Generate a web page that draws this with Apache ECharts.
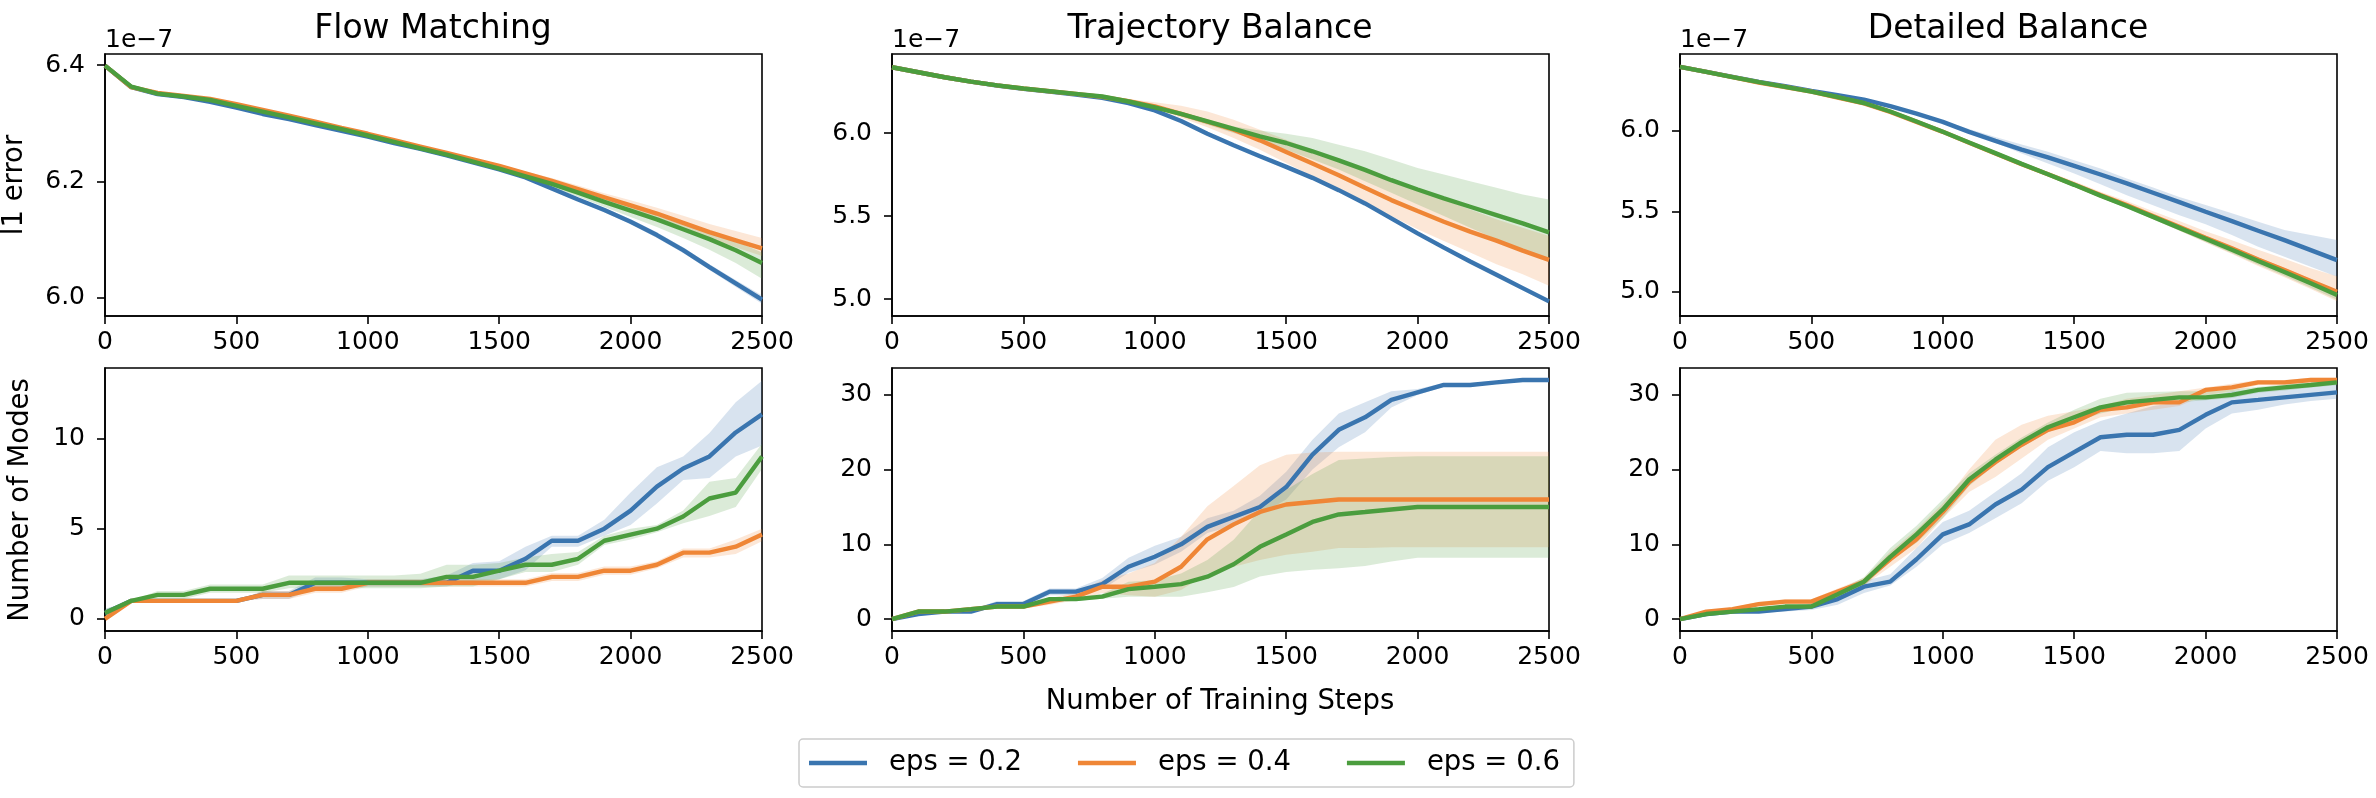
<!DOCTYPE html>
<html lang="en">
<head>
    <meta charset="UTF-8">
    <title>eps comparison</title>
    <script src="https://cdn.jsdelivr.net/npm/echarts@6/dist/echarts.min.js"></script>
    <style>
        html, body { margin: 0; padding: 0; background: #fff; }
        #chart { width: 2376px; height: 798px; }
    </style>
</head>
<body>
<div id="chart"></div>
<script>
    var steps = [0, 100, 200, 300, 400, 500, 600, 700, 800, 900, 1000, 1100, 1200,
        1300, 1400, 1500, 1600, 1700, 1800, 1900, 2000, 2100, 2200, 2300, 2400, 2500];
    var seriesNames = ['eps = 0.2', 'eps = 0.4', 'eps = 0.6'];
    var titles = ['Flow Matching', 'Trajectory Balance', 'Detailed Balance'];
    var errTicksFM = [6.0, 6.2, 6.4];
    var errTicks = [5.0, 5.5, 6.0];
    var modeTicksFM = [0, 5, 10];
    var modeTicks = [0, 10, 20, 30];

    // l1 error (x 1e-7) - Flow Matching
    var fmErrB = [6.399, 6.362, 6.350, 6.345, 6.337, 6.327, 6.316, 6.307, 6.297, 6.287, 6.277, 6.266, 6.256, 6.245, 6.233, 6.221, 6.207, 6.188, 6.169, 6.151, 6.131, 6.108, 6.082, 6.053, 6.025, 5.997];
    var fmErrBLo = [6.397, 6.360, 6.348, 6.343, 6.335, 6.325, 6.314, 6.305, 6.295, 6.285, 6.275, 6.264, 6.254, 6.243, 6.231, 6.219, 6.205, 6.185, 6.166, 6.147, 6.127, 6.103, 6.077, 6.048, 6.019, 5.990];
    var fmErrBHi = [6.401, 6.364, 6.352, 6.347, 6.339, 6.329, 6.318, 6.309, 6.299, 6.289, 6.279, 6.268, 6.258, 6.247, 6.235, 6.223, 6.209, 6.191, 6.172, 6.155, 6.135, 6.113, 6.087, 6.058, 6.031, 6.004];
    var fmErrO = [6.399, 6.362, 6.352, 6.347, 6.342, 6.333, 6.323, 6.313, 6.303, 6.292, 6.282, 6.271, 6.260, 6.249, 6.238, 6.227, 6.214, 6.201, 6.187, 6.173, 6.159, 6.145, 6.129, 6.113, 6.099, 6.085];
    var fmErrOLo = [6.397, 6.360, 6.350, 6.345, 6.340, 6.331, 6.321, 6.311, 6.301, 6.290, 6.280, 6.269, 6.258, 6.247, 6.236, 6.224, 6.211, 6.197, 6.183, 6.168, 6.153, 6.138, 6.120, 6.103, 6.087, 6.072];
    var fmErrOHi = [6.401, 6.364, 6.354, 6.349, 6.344, 6.335, 6.325, 6.315, 6.305, 6.294, 6.284, 6.273, 6.262, 6.251, 6.240, 6.230, 6.217, 6.206, 6.193, 6.180, 6.168, 6.155, 6.141, 6.127, 6.115, 6.103];
    var fmErrG = [6.399, 6.363, 6.351, 6.346, 6.340, 6.330, 6.320, 6.310, 6.300, 6.290, 6.279, 6.268, 6.257, 6.246, 6.234, 6.222, 6.209, 6.196, 6.181, 6.165, 6.150, 6.135, 6.118, 6.101, 6.082, 6.060];
    var fmErrGLo = [6.397, 6.361, 6.349, 6.344, 6.338, 6.328, 6.318, 6.308, 6.298, 6.288, 6.277, 6.266, 6.255, 6.244, 6.232, 6.219, 6.205, 6.190, 6.174, 6.156, 6.139, 6.122, 6.103, 6.083, 6.060, 6.033];
    var fmErrGHi = [6.401, 6.365, 6.353, 6.348, 6.342, 6.332, 6.322, 6.312, 6.302, 6.292, 6.281, 6.270, 6.259, 6.248, 6.236, 6.225, 6.213, 6.201, 6.187, 6.172, 6.159, 6.146, 6.130, 6.115, 6.098, 6.078];

    // l1 error - Trajectory Balance
    var tbErrB = [6.396, 6.366, 6.336, 6.310, 6.286, 6.266, 6.250, 6.232, 6.212, 6.180, 6.136, 6.072, 5.996, 5.926, 5.860, 5.796, 5.730, 5.656, 5.576, 5.486, 5.396, 5.310, 5.226, 5.146, 5.066, 4.986];
    var tbErrBLo = [6.392, 6.362, 6.332, 6.306, 6.282, 6.262, 6.246, 6.228, 6.207, 6.174, 6.129, 6.064, 5.988, 5.918, 5.852, 5.788, 5.722, 5.648, 5.568, 5.478, 5.388, 5.302, 5.218, 5.138, 5.058, 4.978];
    var tbErrBHi = [6.400, 6.370, 6.340, 6.314, 6.290, 6.270, 6.254, 6.236, 6.217, 6.186, 6.143, 6.080, 6.004, 5.934, 5.868, 5.804, 5.738, 5.664, 5.584, 5.494, 5.404, 5.318, 5.234, 5.154, 5.074, 4.994];
    var tbErrO = [6.396, 6.366, 6.336, 6.310, 6.287, 6.268, 6.252, 6.236, 6.218, 6.192, 6.160, 6.115, 6.068, 6.020, 5.956, 5.886, 5.816, 5.746, 5.670, 5.596, 5.530, 5.466, 5.406, 5.352, 5.292, 5.236];
    var tbErrOLo = [6.394, 6.364, 6.334, 6.308, 6.285, 6.266, 6.250, 6.233, 6.213, 6.184, 6.145, 6.092, 6.035, 5.970, 5.900, 5.820, 5.740, 5.660, 5.580, 5.500, 5.420, 5.350, 5.280, 5.210, 5.150, 5.080];
    var tbErrOHi = [6.398, 6.368, 6.338, 6.312, 6.289, 6.270, 6.254, 6.239, 6.224, 6.205, 6.185, 6.165, 6.130, 6.080, 6.020, 5.960, 5.900, 5.840, 5.780, 5.720, 5.660, 5.600, 5.540, 5.480, 5.430, 5.380];
    var tbErrG = [6.396, 6.366, 6.336, 6.310, 6.287, 6.268, 6.252, 6.236, 6.220, 6.190, 6.155, 6.115, 6.070, 6.025, 5.980, 5.940, 5.890, 5.835, 5.778, 5.716, 5.660, 5.606, 5.556, 5.506, 5.456, 5.402];
    var tbErrGLo = [6.394, 6.364, 6.334, 6.308, 6.285, 6.266, 6.250, 6.234, 6.217, 6.186, 6.150, 6.100, 6.050, 6.000, 5.950, 5.900, 5.840, 5.780, 5.710, 5.640, 5.570, 5.500, 5.430, 5.360, 5.290, 5.230];
    var tbErrGHi = [6.398, 6.368, 6.338, 6.312, 6.289, 6.270, 6.254, 6.238, 6.223, 6.195, 6.165, 6.125, 6.085, 6.040, 6.015, 5.995, 5.970, 5.930, 5.890, 5.840, 5.790, 5.750, 5.710, 5.670, 5.630, 5.600];

    // l1 error - Detailed Balance
    var dbErrB = [6.397, 6.366, 6.335, 6.304, 6.277, 6.248, 6.221, 6.194, 6.153, 6.107, 6.056, 5.994, 5.938, 5.884, 5.835, 5.783, 5.729, 5.674, 5.616, 5.558, 5.498, 5.440, 5.380, 5.322, 5.260, 5.198];
    var dbErrBLo = [6.395, 6.364, 6.333, 6.302, 6.275, 6.246, 6.219, 6.191, 6.149, 6.102, 6.050, 5.988, 5.926, 5.860, 5.798, 5.736, 5.669, 5.601, 5.539, 5.477, 5.421, 5.353, 5.281, 5.219, 5.157, 5.095];
    var dbErrBHi = [6.399, 6.368, 6.337, 6.306, 6.279, 6.250, 6.223, 6.197, 6.157, 6.112, 6.062, 6.012, 5.962, 5.915, 5.870, 5.818, 5.767, 5.705, 5.649, 5.590, 5.540, 5.488, 5.436, 5.384, 5.353, 5.322];
    var dbErrO = [6.397, 6.366, 6.333, 6.300, 6.272, 6.243, 6.207, 6.170, 6.118, 6.056, 5.994, 5.926, 5.860, 5.793, 5.731, 5.667, 5.601, 5.539, 5.471, 5.405, 5.337, 5.271, 5.202, 5.136, 5.068, 5.002];
    var dbErrOLo = [6.395, 6.364, 6.331, 6.298, 6.270, 6.241, 6.204, 6.166, 6.113, 6.051, 5.989, 5.918, 5.850, 5.781, 5.718, 5.652, 5.584, 5.521, 5.451, 5.380, 5.307, 5.236, 5.162, 5.091, 5.018, 4.942];
    var dbErrOHi = [6.399, 6.368, 6.335, 6.302, 6.274, 6.245, 6.210, 6.174, 6.123, 6.061, 5.999, 5.934, 5.870, 5.806, 5.746, 5.687, 5.622, 5.564, 5.501, 5.440, 5.377, 5.321, 5.262, 5.206, 5.148, 5.097];
    var dbErrG = [6.397, 6.366, 6.334, 6.302, 6.273, 6.244, 6.210, 6.173, 6.120, 6.058, 5.994, 5.928, 5.862, 5.795, 5.731, 5.665, 5.598, 5.534, 5.466, 5.398, 5.330, 5.262, 5.192, 5.124, 5.054, 4.982];
    var dbErrGLo = [6.395, 6.364, 6.332, 6.300, 6.271, 6.242, 6.207, 6.169, 6.115, 6.052, 5.988, 5.921, 5.854, 5.786, 5.721, 5.654, 5.586, 5.520, 5.451, 5.381, 5.311, 5.241, 5.169, 5.099, 5.027, 4.952];
    var dbErrGHi = [6.399, 6.368, 6.336, 6.304, 6.275, 6.246, 6.213, 6.177, 6.125, 6.064, 6.000, 5.935, 5.870, 5.804, 5.741, 5.676, 5.610, 5.548, 5.481, 5.415, 5.349, 5.283, 5.215, 5.149, 5.081, 5.012];

    // number of modes - Flow Matching
    var fmModB = [0.33, 1, 1, 1, 1, 1, 1.33, 1.33, 2, 2, 2, 2, 2, 2, 2.67, 2.67, 3.33, 4.33, 4.33, 5, 6, 7.33, 8.33, 9, 10.33, 11.33];
    var fmModBLo = [0.1, 1, 1, 1, 1, 1, 1.1, 1.1, 1.7, 1.7, 1.8, 1.8, 1.8, 1.8, 2.1, 2.2, 2.7, 4.0, 4.0, 4.6, 5.2, 6.4, 7.7, 7.8, 9.0, 9.6];
    var fmModBHi = [0.55, 1, 1, 1, 1, 1, 1.55, 1.55, 2.3, 2.3, 2.2, 2.2, 2.2, 2.4, 3.1, 3.2, 4.0, 4.6, 4.6, 5.5, 7.0, 8.4, 9.0, 10.3, 12.0, 13.2];
    var fmModO = [0, 1, 1, 1, 1, 1, 1.33, 1.33, 1.67, 1.67, 2, 2, 2, 2, 2, 2, 2, 2.33, 2.33, 2.67, 2.67, 3, 3.67, 3.67, 4, 4.67];
    var fmModOLo = [0, 1, 1, 1, 1, 1, 1.1, 1.1, 1.45, 1.45, 1.8, 1.8, 1.8, 1.8, 1.8, 1.8, 1.8, 2.1, 2.1, 2.45, 2.45, 2.8, 3.4, 3.4, 3.6, 4.3];
    var fmModOHi = [0, 1, 1, 1, 1, 1, 1.55, 1.55, 1.9, 1.9, 2.2, 2.2, 2.2, 2.2, 2.2, 2.2, 2.2, 2.55, 2.55, 2.9, 2.9, 3.2, 3.9, 3.9, 4.4, 5.0];
    var fmModG = [0.33, 1, 1.33, 1.33, 1.67, 1.67, 1.67, 2, 2, 2, 2, 2, 2, 2.33, 2.33, 2.67, 3, 3, 3.33, 4.33, 4.67, 5, 5.67, 6.67, 7, 9];
    var fmModGLo = [0.1, 1, 1.1, 1.1, 1.45, 1.45, 1.45, 1.7, 1.7, 1.7, 1.7, 1.7, 1.7, 1.8, 1.8, 2.2, 2.6, 2.6, 3.0, 4.1, 4.4, 4.8, 5.3, 5.7, 6.2, 8.3];
    var fmModGHi = [0.55, 1, 1.55, 1.55, 1.9, 1.9, 1.9, 2.4, 2.4, 2.4, 2.4, 2.4, 2.5, 3.0, 3.0, 3.1, 3.4, 3.6, 3.7, 4.6, 5.0, 5.2, 6.0, 7.6, 7.8, 9.7];

    // number of modes - Trajectory Balance
    var tbModB = [0, 0.67, 1, 1, 2, 2, 3.67, 3.67, 4.67, 7, 8.33, 10, 12.33, 13.67, 15, 17.67, 22, 25.33, 27, 29.33, 30.33, 31.33, 31.33, 31.67, 32, 32];
    var tbModBLo = [0, 0.4, 0.8, 0.8, 1.6, 1.6, 3.2, 3.2, 4.0, 6.2, 7.3, 9.0, 11.5, 12.5, 14.0, 16.0, 20.0, 23.0, 25.0, 28.3, 30.0, 31.1, 31.1, 31.5, 31.8, 31.8];
    var tbModBHi = [0, 0.9, 1.2, 1.2, 2.4, 2.4, 4.1, 4.1, 5.5, 8.2, 9.8, 11.0, 13.5, 14.5, 16.5, 19.7, 24.0, 27.5, 29.0, 30.5, 30.8, 31.6, 31.6, 31.9, 32.2, 32.2];
    var tbModO = [0, 1, 1, 1.33, 1.67, 1.67, 2.33, 3, 4.33, 4.33, 5, 7, 10.67, 12.67, 14.33, 15.33, 15.67, 16, 16, 16, 16, 16, 16, 16, 16, 16];
    var tbModOLo = [0, 1, 1, 1.1, 1.4, 1.4, 1.9, 2.5, 3.5, 3.2, 3.0, 3.9, 6.1, 7.0, 7.9, 8.6, 9.0, 9.5, 9.5, 9.6, 9.6, 9.6, 9.6, 9.6, 9.6, 9.6];
    var tbModOHi = [0, 1, 1, 1.55, 1.9, 1.9, 2.8, 3.6, 5.2, 6.1, 7.5, 11.0, 15.1, 17.8, 20.6, 22.0, 22.3, 22.4, 22.4, 22.4, 22.4, 22.4, 22.4, 22.4, 22.4, 22.4];
    var tbModG = [0, 1, 1, 1.33, 1.67, 1.67, 2.67, 2.67, 3, 4, 4.33, 4.67, 5.67, 7.33, 9.67, 11.33, 13, 14, 14.33, 14.67, 15, 15, 15, 15, 15, 15];
    var tbModGLo = [0, 1, 1, 1.1, 1.4, 1.4, 2.4, 2.4, 2.7, 3.0, 3.0, 3.0, 3.6, 4.3, 5.7, 6.3, 6.6, 6.8, 7.1, 7.7, 8.2, 8.2, 8.2, 8.2, 8.2, 8.2];
    var tbModGHi = [0, 1, 1, 1.55, 1.9, 1.9, 2.9, 2.9, 3.4, 5.0, 5.2, 6.1, 7.9, 10.6, 14.6, 17.3, 19.4, 21.3, 21.5, 21.7, 21.8, 21.8, 21.8, 21.8, 21.8, 21.8];

    // number of modes - Detailed Balance
    var dbModB = [0, 0.67, 1, 1, 1.33, 1.67, 2.67, 4.33, 5, 8, 11.33, 12.67, 15.33, 17.33, 20.33, 22.33, 24.33, 24.67, 24.67, 25.33, 27.33, 29, 29.33, 29.67, 30, 30.33];
    var dbModBLo = [0, 0.45, 0.8, 0.8, 1.0, 1.2, 1.9, 3.5, 4.5, 7, 10, 11.5, 13.5, 15.5, 18.5, 20.3, 22.5, 22.2, 22.2, 22.5, 25.5, 27.5, 28.0, 28.7, 29.2, 29.5];
    var dbModBHi = [0, 0.9, 1.2, 1.2, 1.7, 2.1, 3.4, 5.1, 6, 9.5, 13, 14.5, 17, 19.5, 23, 25, 26.5, 27.5, 28.5, 29, 29.5, 30.5, 30.8, 31, 31.3, 31.6];
    var dbModO = [0, 1, 1.33, 2, 2.33, 2.33, 3.67, 5, 8, 10.67, 14.33, 18.33, 21, 23.33, 25.33, 26.33, 28, 28.33, 29, 29, 30.67, 31, 31.67, 31.67, 32, 32];
    var dbModOLo = [0, 0.8, 1.1, 1.7, 2.0, 2.0, 3.2, 4.5, 7.0, 9.5, 13.5, 17, 19, 21.5, 24, 25.5, 27, 27.5, 28, 28.5, 30, 30.5, 31.3, 31.3, 31.7, 31.7];
    var dbModOHi = [0, 1.2, 1.55, 2.3, 2.65, 2.65, 4.1, 5.5, 9.0, 12, 15.5, 20, 24, 26, 27.2, 27.8, 28.5, 29.5, 30, 30.5, 31, 31.5, 32, 32, 32.3, 32.3];
    var dbModG = [0, 0.67, 1, 1.33, 1.67, 1.67, 3.33, 5, 8.33, 11.33, 14.67, 18.67, 21.33, 23.67, 25.67, 27, 28.33, 29, 29.33, 29.67, 29.67, 30, 30.67, 31, 31.33, 31.67];
    var dbModGLo = [0, 0.45, 0.8, 1.1, 1.4, 1.4, 2.9, 4.4, 7.8, 10.2, 13.5, 17.8, 20.7, 23, 25, 26.3, 27.5, 28.3, 28.7, 29, 29.3, 29.6, 30.3, 30.6, 31, 31.3];
    var dbModGHi = [0, 0.9, 1.2, 1.55, 1.9, 1.9, 3.8, 5.6, 9.5, 12.5, 16, 19.5, 22, 24.3, 26.3, 28, 29.5, 30.3, 30.4, 30.5, 30.5, 30.7, 31.1, 31.4, 31.7, 32];

    var colors = ['#3a75af', '#ef8636', '#4b9d3e'];
    var font = 'DejaVu Sans';

    // panel order: top row (error) left->right, then bottom row (modes)
    var panels = [
        {mean: [fmErrB, fmErrO, fmErrG], lo: [fmErrBLo, fmErrOLo, fmErrGLo], hi: [fmErrBHi, fmErrOHi, fmErrGHi], ticks: errTicksFM, min: 5.969, max: 6.419, dec: 1},
        {mean: [tbErrB, tbErrO, tbErrG], lo: [tbErrBLo, tbErrOLo, tbErrGLo], hi: [tbErrBHi, tbErrOHi, tbErrGHi], ticks: errTicks, min: 4.898, max: 6.476, dec: 1},
        {mean: [dbErrB, dbErrO, dbErrG], lo: [dbErrBLo, dbErrOLo, dbErrGLo], hi: [dbErrBHi, dbErrOHi, dbErrGHi], ticks: errTicks, min: 4.851, max: 6.477, dec: 1},
        {mean: [fmModB, fmModO, fmModG], lo: [fmModBLo, fmModOLo, fmModGLo], hi: [fmModBHi, fmModOHi, fmModGHi], ticks: modeTicksFM, min: -0.67, max: 13.9, dec: 0},
        {mean: [tbModB, tbModO, tbModG], lo: [tbModBLo, tbModOLo, tbModGLo], hi: [tbModBHi, tbModOHi, tbModGHi], ticks: modeTicks, min: -1.6, max: 33.6, dec: 0},
        {mean: [dbModB, dbModO, dbModG], lo: [dbModBLo, dbModOLo, dbModGLo], hi: [dbModBHi, dbModOHi, dbModGHi], ticks: modeTicks, min: -1.6, max: 33.6, dec: 0}
    ];

    var gridLefts = [105, 892, 1680];
    var gridTops = [54, 368];

    function pairs(ys) {
        return steps.map(function (x, i) { return [x, ys[i]]; });
    }

    // shaded band between lo and hi, placed through the axes of the panel
    function bandSeries(k, lo, hi, color) {
        return {
            type: 'custom', xAxisIndex: k, yAxisIndex: k, silent: true, z: 1,
            data: [[steps[0], lo[0]]],
            renderItem: function (params, api) {
                var upper = steps.map(function (x, i) { return api.coord([x, hi[i]]); });
                var lower = steps.map(function (x, i) { return api.coord([x, lo[i]]); }).reverse();
                return {
                    type: 'polygon',
                    shape: {points: upper.concat(lower)},
                    style: {fill: color, opacity: 0.2}
                };
            }
        };
    }

    var grids = [], xAxes = [], yAxes = [], series = [];
    panels.forEach(function (p, k) {
        var col = k % 3, row = Math.floor(k / 3);
        grids.push({
            left: gridLefts[col], top: gridTops[row], width: 657, height: row ? 263 : 262,
            show: true, borderColor: '#000', borderWidth: 1.6, backgroundColor: 'transparent'
        });
        xAxes.push({
            type: 'value', gridIndex: k, min: 0, max: 2500, interval: 500,
            axisLine: {show: true, onZero: false, lineStyle: {color: '#000', width: 1.6}},
            axisTick: {show: true, length: 8, lineStyle: {color: '#000', width: 1.6}},
            axisLabel: {color: '#000', fontSize: 25, fontFamily: font, margin: 14,
                formatter: function (v) { return String(v); }},
            splitLine: {show: false}
        });
        yAxes.push({
            type: 'value', gridIndex: k, min: p.min, max: p.max,
            axisLine: {show: true, onZero: false, lineStyle: {color: '#000', width: 1.6}},
            axisTick: {show: true, length: 8, customValues: p.ticks, lineStyle: {color: '#000', width: 1.6}},
            axisLabel: {
                color: '#000', fontSize: 25, fontFamily: font, margin: 20, customValues: p.ticks,
                formatter: function (v) { return v.toFixed(p.dec); }
            },
            splitLine: {show: false}
        });
        p.mean.forEach(function (m, j) {
            series.push(bandSeries(k, p.lo[j], p.hi[j], colors[j]));
        });
        p.mean.forEach(function (m, j) {
            series.push({
                type: 'line', name: seriesNames[j], xAxisIndex: k, yAxisIndex: k,
                data: pairs(m), symbol: 'none', z: 3,
                itemStyle: {color: colors[j]},
                lineStyle: {color: colors[j], width: 4.4}
            });
        });
    });

    var graphics = [];
    titles.forEach(function (t, c) {
        graphics.push({
            type: 'text', x: gridLefts[c] + 328, y: 29,
            style: {text: t, font: '33px "DejaVu Sans"', fill: '#000', align: 'center', verticalAlign: 'middle'}
        });
        graphics.push({
            type: 'text', x: gridLefts[c], y: 40,
            style: {text: '1e\u22127', font: '25px "DejaVu Sans"', fill: '#000', align: 'left', verticalAlign: 'middle'}
        });
    });
    graphics.push({
        type: 'text', x: 15, y: 185, rotation: Math.PI / 2,
        style: {text: 'l1 error', font: '27.5px "DejaVu Sans"', fill: '#000', align: 'center', verticalAlign: 'middle'}
    });
    graphics.push({
        type: 'text', x: 21, y: 500, rotation: Math.PI / 2,
        style: {text: 'Number of Modes', font: '27.5px "DejaVu Sans"', fill: '#000', align: 'center', verticalAlign: 'middle'}
    });
    graphics.push({
        type: 'text', x: 1220, y: 702,
        style: {text: 'Number of Training Steps', font: '27.5px "DejaVu Sans"', fill: '#000', align: 'center', verticalAlign: 'middle'}
    });

    var chart = echarts.init(document.getElementById('chart'), null, {renderer: 'canvas'});
    chart.setOption({
        animation: false,
        backgroundColor: '#fff',
        grid: grids,
        xAxis: xAxes,
        yAxis: yAxes,
        legend: {
            data: seriesNames.map(function (n) { return {name: n, icon: 'rect'}; }),
            left: 799, top: 739,
            orient: 'horizontal',
            itemWidth: 58, itemHeight: 4.4, itemGap: 56,
            padding: [10, 14, 10, 10],
            borderColor: '#cccccc', borderWidth: 1.5, borderRadius: 4,
            textStyle: {color: '#000', fontSize: 27.5, fontFamily: font, padding: [0, 0, 0, 17]}
        },
        graphic: graphics,
        series: series
    });
</script>
</body>
</html>
